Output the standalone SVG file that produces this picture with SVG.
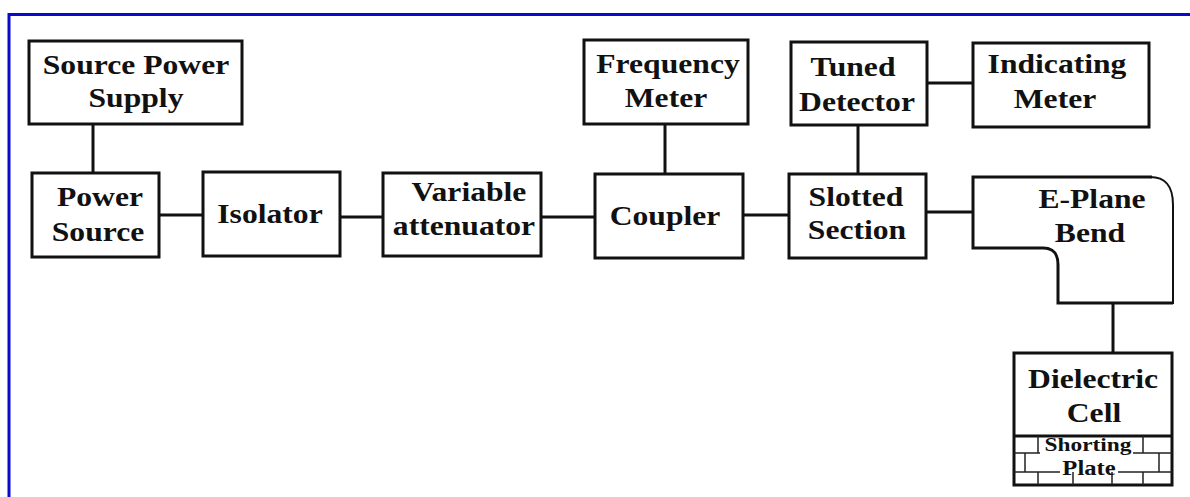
<svg xmlns="http://www.w3.org/2000/svg" width="1190" height="497" viewBox="0 0 1190 497">
<style>
.box{fill:#fff;stroke:#111;stroke-width:3}
.ln{fill:none;stroke:#111;stroke-width:3}
.brick{fill:none;stroke:#222;stroke-width:1.5}
.t{font-family:"Liberation Serif","Times New Roman",serif;font-weight:bold;font-size:28px;fill:#111;text-anchor:middle}
.s{font-size:19px}
.p{font-size:20px}
</style>
<rect width="1190" height="497" fill="#fff"/>
<path d="M9 497 V14.5 H1190" fill="none" stroke="#0a0acc" stroke-width="3"/>
<g id="connectors">
<path class="ln" d="M93 124V173"/>
<path class="ln" d="M159 215H203"/>
<path class="ln" d="M340 217H383"/>
<path class="ln" d="M541 217H595"/>
<path class="ln" d="M665 124V174"/>
<path class="ln" d="M743 215H789"/>
<path class="ln" d="M858 125V174"/>
<path class="ln" d="M927 83H973"/>
<path class="ln" d="M926 212H973"/>
<path class="ln" d="M1113 303V353"/>
</g>
<g id="source-power-supply">
<rect class="box" x="29" y="41" width="213" height="83"/>
<text class="t" transform="translate(136 74) scale(1.13 1)">Source Power</text>
<text class="t" transform="translate(136 107) scale(1.13 1)">Supply</text>
</g>
<g id="power-source">
<rect class="box" x="32" y="173" width="127" height="84"/>
<text class="t" transform="translate(100 206) scale(1.13 1)">Power</text>
<text class="t" transform="translate(98 241) scale(1.13 1)">Source</text>
</g>
<g id="isolator">
<rect class="box" x="203" y="172" width="137" height="84"/>
<text class="t" transform="translate(270 223) scale(1.13 1)">Isolator</text>
</g>
<g id="variable-attenuator">
<rect class="box" x="383" y="173" width="158" height="83"/>
<text class="t" transform="translate(469 201) scale(1.13 1)">Variable</text>
<text class="t" transform="translate(464 235) scale(1.13 1)">attenuator</text>
</g>
<g id="coupler">
<rect class="box" x="595" y="174" width="148" height="84"/>
<text class="t" transform="translate(665 225) scale(1.13 1)">Coupler</text>
</g>
<g id="frequency-meter">
<rect class="box" x="584" y="40" width="164" height="84"/>
<text class="t" transform="translate(668 73) scale(1.13 1)">Frequency</text>
<text class="t" transform="translate(666 107) scale(1.13 1)">Meter</text>
</g>
<g id="tuned-detector">
<rect class="box" x="791" y="42" width="136" height="83"/>
<text class="t" transform="translate(853 76) scale(1.13 1)">Tuned</text>
<text class="t" transform="translate(857 111) scale(1.13 1)">Detector</text>
</g>
<g id="slotted-section">
<rect class="box" x="789" y="174" width="137" height="84"/>
<text class="t" transform="translate(856 206) scale(1.13 1)">Slotted</text>
<text class="t" transform="translate(857 239) scale(1.13 1)">Section</text>
</g>
<g id="indicating-meter">
<rect class="box" x="973" y="43" width="176" height="84"/>
<text class="t" transform="translate(1057 73) scale(1.13 1)">Indicating</text>
<text class="t" transform="translate(1055 108) scale(1.13 1)">Meter</text>
</g>
<g id="e-plane-bend">
<path d="M973 177H1150C1165 177 1173 185 1173 205V303H1058V265C1058 253 1053 248 1043 248H973Z" fill="#fff" stroke="none"/>
<path class="ln" d="M1152 177H973V248H1043C1053 248 1058 253 1058 265V303H1173"/>
<path fill="none" stroke="#111" stroke-width="2" d="M1150 177C1165 177 1173 185 1173 205V304"/>
<text class="t" transform="translate(1092 208) scale(1.13 1)">E-Plane</text>
<text class="t" transform="translate(1090 242) scale(1.13 1)">Bend</text>
</g>
<g id="dielectric-cell">
<rect class="box" x="1014" y="353" width="158" height="132"/>
<path class="ln" d="M1014 436H1172"/>
<path class="brick" d="M1014 453H1040M1133 453H1172M1014 472H1060M1118 472H1172M1038 436V453M1143 436V453M1025 453V472M1159 453V472M1038 472V485M1073 472V485M1112 472V485M1143 472V485"/>
<text class="t" transform="translate(1093 388) scale(1.13 1)">Dielectric</text>
<text class="t" transform="translate(1094 422) scale(1.13 1)">Cell</text>
<text class="t s" transform="translate(1088 451) scale(1.23 1)">Shorting</text>
<text class="t p" transform="translate(1089 475) scale(1.23 1)">Plate</text>
</g>
</svg>
